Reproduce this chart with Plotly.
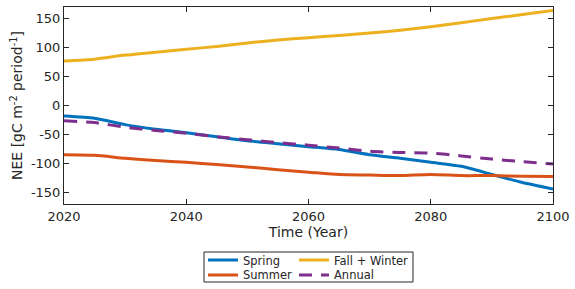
import plotly.graph_objects as go

years = [2020, 2025, 2030, 2035, 2040, 2045, 2050, 2055, 2060, 2065, 2070, 2075, 2080, 2085, 2090, 2095, 2100]
spring = [-18, -22, -33, -41, -47, -54, -61, -66, -71, -76, -85, -91, -98, -105, -119, -133, -144]
summer = [-85, -86, -91, -95, -98, -102, -106, -111, -115, -119, -120, -121, -119, -121, -121, -122, -122.5]
fall_winter = [77, 80, 87, 92, 97, 102, 108, 113, 117, 121, 125, 130, 136, 143, 150, 157, 164]
annual = [-26.5, -29.5, -37.5, -43, -48, -54, -59, -64, -68.5, -73.5, -79, -81, -82, -87, -92.5, -97, -101]

year_ticks = [2020, 2040, 2060, 2080, 2100]
nee_ticks = [-150, -100, -50, 0, 50, 100, 150]
nee_tick_labels = ["-150", "-100", "-50", "0", "50", "100", "150"]

fig = go.Figure()
fig.add_trace(go.Scatter(x=years, y=spring, name="Spring", mode="lines", legend="legend",
                         line=dict(color="#0072BD", width=3, shape="spline", smoothing=0.6)))
fig.add_trace(go.Scatter(x=years, y=fall_winter, name="Fall + Winter", mode="lines", legend="legend2",
                         line=dict(color="#EDB120", width=3, shape="spline", smoothing=0.6)))
fig.add_trace(go.Scatter(x=years, y=summer, name="Summer", mode="lines", legend="legend3",
                         line=dict(color="#D95319", width=3, shape="spline", smoothing=0.6)))
fig.add_trace(go.Scatter(x=years, y=annual, name="Annual", mode="lines", legend="legend4",
                         line=dict(color="#7E2F8E", width=3, dash="13px,9px", shape="spline", smoothing=0.6)))

axis_common = dict(showgrid=False, zeroline=False, showline=True, linecolor="#262626",
                   linewidth=1, mirror="ticks", ticks="inside", ticklen=5, tickcolor="#262626",
                   tickfont=dict(size=13, color="#262626"))

leg_common = dict(orientation="v", yanchor="middle", xanchor="left", borderwidth=0,
                  bgcolor="rgba(0,0,0,0)", font=dict(size=11.5), tracegroupgap=0,
                  itemwidth=30)

x_left, x_right = 0.2843, 0.4703
y_top, y_bot = -0.2843, -0.3604

fig.update_layout(
    width=575, height=289,
    margin=dict(l=64, r=22, t=7, b=85, autoexpand=False),
    paper_bgcolor="white", plot_bgcolor="white",
    font=dict(family="DejaVu Sans", color="#262626"),
    showlegend=True,
    legend=dict(x=x_left, y=y_top, **leg_common),
    legend2=dict(x=x_right, y=y_top, **leg_common),
    legend3=dict(x=x_left, y=y_bot, **leg_common),
    legend4=dict(x=x_right, y=y_bot, **leg_common),
    xaxis=dict(range=[2020, 2100], tickvals=year_ticks,
               title=dict(text="Time (Year)", font=dict(size=14), standoff=2), **axis_common),
    yaxis=dict(range=[-170, 170], tickvals=nee_ticks, ticktext=nee_tick_labels,
               title=dict(text="NEE [gC m<sup>-2</sup> period<sup>-1</sup>]", font=dict(size=14), standoff=4),
               **axis_common),
    shapes=[dict(type="rect", xref="paper", yref="paper", x0=0.2863, x1=0.7137,
                 y0=-0.396, y1=-0.2437, line=dict(color="#262626", width=1),
                 fillcolor="rgba(0,0,0,0)", layer="above")],
)

fig.write_html("out.html", config={"displayModeBar": False},
               post_script="document.body.style.margin='0';document.body.style.padding='0';")
